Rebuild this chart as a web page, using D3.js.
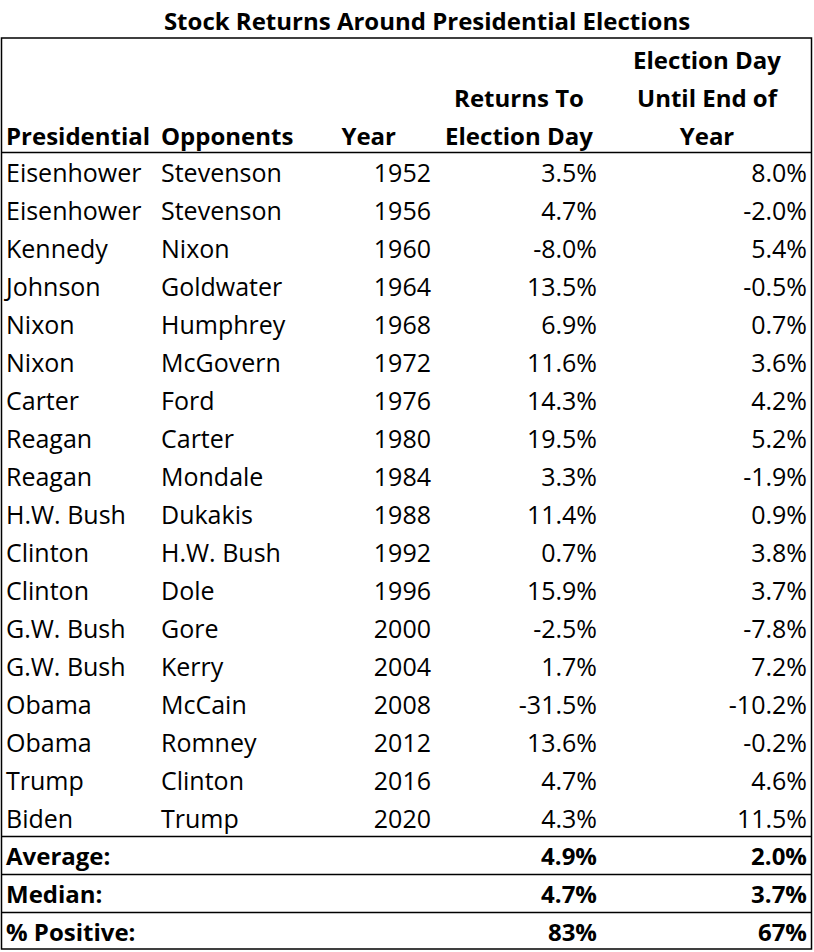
<!DOCTYPE html>
<html><head><meta charset="utf-8">
<script src="https://cdn.jsdelivr.net/npm/d3@7"></script>
<style>body{margin:0;background:#fff}</style>
</head><body>
<script>
const title = "Stock Returns Around Presidential Elections";
const presidents = ["Eisenhower","Eisenhower","Kennedy","Johnson","Nixon","Nixon","Carter","Reagan","Reagan","H.W. Bush","Clinton","Clinton","G.W. Bush","G.W. Bush","Obama","Obama","Trump","Biden"];
const opponents = ["Stevenson","Stevenson","Nixon","Goldwater","Humphrey","McGovern","Ford","Carter","Mondale","Dukakis","H.W. Bush","Dole","Gore","Kerry","McCain","Romney","Clinton","Trump"];
const years = [1952,1956,1960,1964,1968,1972,1976,1980,1984,1988,1992,1996,2000,2004,2008,2012,2016,2020];
const toElection = [3.5,4.7,-8.0,13.5,6.9,11.6,14.3,19.5,3.3,11.4,0.7,15.9,-2.5,1.7,-31.5,13.6,4.7,4.3];
const toYearEnd = [8.0,-2.0,5.4,-0.5,0.7,3.6,4.2,5.2,-1.9,0.9,3.8,3.7,-7.8,7.2,-10.2,-0.2,4.6,11.5];
const summaryLabels = ["Average:","Median:","% Positive:"];
const summaryToElection = ["4.9%","4.7%","83%"];
const summaryToYearEnd = ["2.0%","3.7%","67%"];
const headers = [["Presidential"],["Opponents"],["Year"],["Returns To","Election Day"],["Election Day","Until End of","Year"]];

(function(){
const W = 814, H = 952;
const FONT = "'Open Sans', 'Noto Sans', sans-serif";
const FS = 25, FSB = 24;
const svg = d3.select("body").append("svg").attr("width", W).attr("height", H);

const xL = 1.5, xR = 811.5, yTop = 38, headBottom = 152.5;
const rowH = 38;
const nRows = years.length;
const y = d3.scaleBand().domain(d3.range(nRows + 3)).range([headBottom, headBottom + rowH * (nRows + 3)]).padding(0);

svg.append("text").attr("x", 427).attr("y", 20).attr("text-anchor", "middle")
  .attr("dominant-baseline", "central").attr("font-family", FONT).attr("font-weight", 700)
  .attr("font-size", FSB).text(title);

const colX = [6, 161, 431, 597, 807];
const headAnchor = ["start","start","end","middle","middle"];
const headX = [6, 161, 396, 519, 707];
const headLineY = [59, 97, 135];
headers.forEach((lines, i) => {
  lines.forEach((t, j) => {
    const yy = headLineY[3 - lines.length + j];
    svg.append("text").attr("x", headX[i]).attr("y", yy).attr("text-anchor", headAnchor[i])
      .attr("dominant-baseline", "central").attr("font-family", FONT).attr("font-weight", 700)
      .attr("font-size", FSB).text(t);
  });
});

const fmt = v => v.toFixed(1) + "%";
const rows = d3.range(nRows).map(i => [presidents[i], opponents[i], String(years[i]), fmt(toElection[i]), fmt(toYearEnd[i])]);
const anchors = ["start","start","end","end","end"];
const g = svg.append("g");
rows.forEach((r, i) => {
  r.forEach((t, c) => {
    g.append("text").attr("x", colX[c]).attr("y", y(i) + rowH / 2)
      .attr("text-anchor", anchors[c]).attr("dominant-baseline", "central")
      .attr("font-family", FONT).attr("font-size", FS).attr("fill", "#000").text(t);
  });
});
summaryLabels.forEach((lab, k) => {
  const i = nRows + k;
  const cy = y(i) + rowH / 2;
  [[lab, colX[0], "start"], [summaryToElection[k], colX[3], "end"], [summaryToYearEnd[k], colX[4], "end"]].forEach(([t, x, a]) => {
    svg.append("text").attr("x", x).attr("y", cy).attr("text-anchor", a)
      .attr("dominant-baseline", "central").attr("font-family", FONT).attr("font-weight", 700)
      .attr("font-size", FSB).text(t);
  });
});

const yBottom = y(nRows + 2) + rowH - 1.5;
svg.append("rect").attr("x", xL).attr("y", yTop).attr("width", xR - xL).attr("height", yBottom - yTop)
  .attr("fill", "none").attr("stroke", "#000").attr("stroke-width", 1.5);
[headBottom, y(nRows), y(nRows + 1), y(nRows + 2)].forEach(yy => {
  svg.append("line").attr("x1", xL).attr("x2", xR).attr("y1", yy).attr("y2", yy)
    .attr("stroke", "#000").attr("stroke-width", 1.5);
});
})();
</script>
</body></html>
